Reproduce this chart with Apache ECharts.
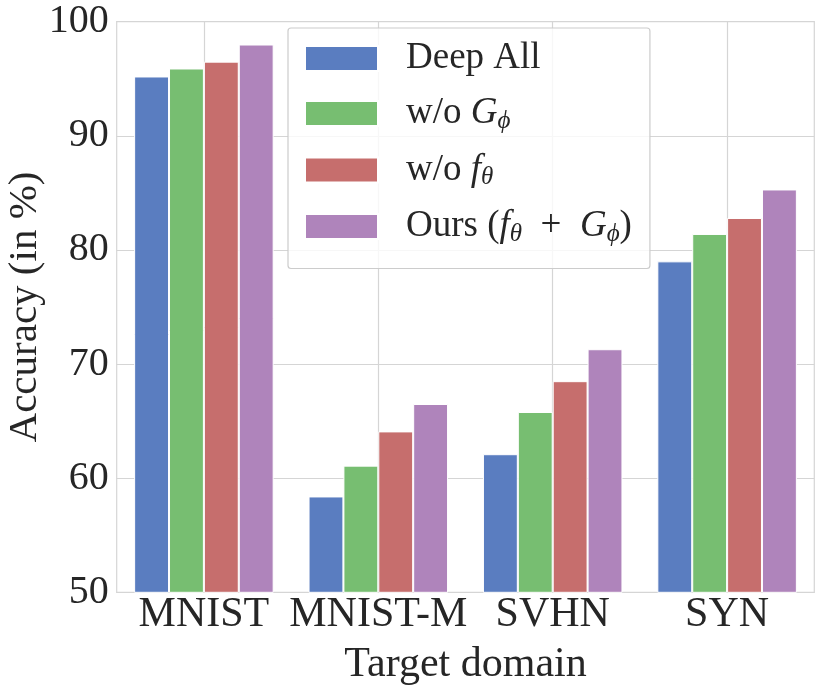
<!DOCTYPE html>
<html>
<head>
<meta charset="utf-8">
<script src="https://cdn.jsdelivr.net/npm/echarts@6/dist/echarts.min.js"></script>
<style>html,body{margin:0;padding:0;background:#fff}#c{width:824px;height:686px}</style>
</head>
<body>
<div id="c"></div>
<script>
const categories = ['MNIST', 'MNIST-M', 'SVHN', 'SYN'];
const deepAll = [95.2, 58.4, 62.1, 79.0];
const woG = [95.9, 61.1, 65.8, 81.4];
const woF = [96.5, 64.1, 68.5, 82.8];
const ours = [98.0, 66.5, 71.3, 85.3];
const yTicks = { min: 50, max: 100, interval: 10 };

const FONT = 'Liberation Serif';
const TXT = '#262626';
const GRID = '#d5d5d5';
const colors = ['#5A7DC0', '#77BE71', '#C66E6D', '#AF84BB'];
const names = ['Deep All', 'w/o G', 'w/o f', 'Ours'];
const legendText = {
  'Deep All': 'Deep All',
  'w/o G': 'w/o {i|G}{s|ϕ}',
  'w/o f': 'w/o {i|f}{s|θ}',
  'Ours': 'Ours ({i|f}{s|θ}  +  {i|G}{s|ϕ})'
};
const seriesData = [deepAll, woG, woF, ours];

// helper axis (hidden) used only to place vertical gridlines at category centres
const halfSteps = [];
for (let i = 0; i <= categories.length * 2; i++) halfSteps.push(String(i));

const chart = echarts.init(document.getElementById('c'), null, { renderer: 'canvas' });
chart.setOption({
  animation: false,
  backgroundColor: '#fff',
  color: colors,
  grid: { left: 116.7, right: 9.7, top: 21.7, bottom: 93.7, containLabel: false, outerBoundsMode: 'none',
          show: true, borderColor: GRID, borderWidth: 1.2, backgroundColor: 'transparent' },
  legend: {
    orient: 'vertical', left: 288, top: 28,
    padding: [12, 18, 22, 16],
    itemWidth: 73, itemHeight: 25, itemGap: 18,
    backgroundColor: 'rgba(255,255,255,0.8)', borderColor: '#cccccc', borderWidth: 1.2, borderRadius: 3,
    icon: 'rect',
    data: names,
    formatter: n => legendText[n],
    textStyle: {
      fontFamily: FONT, fontSize: 37, color: TXT, padding: [0, 0, 0, 23],
      rich: {
        i: { fontFamily: FONT, fontSize: 37, fontStyle: 'italic', color: TXT },
        s: { fontFamily: FONT, fontSize: 25, fontStyle: 'italic', color: TXT, padding: [15, 0, 0, 0] }
      }
    }
  },
  xAxis: [{
    type: 'category', data: categories,
    name: 'Target domain', nameLocation: 'middle', nameGap: 52, nameMoveOverlap: false,
    nameTextStyle: { fontFamily: FONT, fontSize: 42, color: TXT },
    axisLine: { show: false }, axisTick: { show: false },
    axisLabel: { fontFamily: FONT, fontSize: 42, color: TXT, margin: 2, interval: 0 },
    splitLine: { show: false }
  }, {
    type: 'category', data: halfSteps, boundaryGap: false, position: 'bottom',
    axisLine: { show: false }, axisTick: { show: false }, axisLabel: { show: false },
    splitLine: { show: true, interval: (idx) => idx % 2 === 1, lineStyle: { color: GRID, width: 1.2 } }
  }],
  yAxis: {
    type: 'value', min: yTicks.min, max: yTicks.max, interval: yTicks.interval,
    name: 'Accuracy (in %)', nameLocation: 'middle', nameGap: 71, nameMoveOverlap: false,
    nameTextStyle: { fontFamily: FONT, fontSize: 41, color: TXT },
    axisLine: { show: false }, axisTick: { show: false },
    axisLabel: { fontFamily: FONT, fontSize: 40, color: TXT, margin: 8 },
    splitLine: { show: true, lineStyle: { color: GRID, width: 1.2 } }
  },
  series: names.map((n, k) => ({
    name: n, type: 'bar', data: seriesData[k], xAxisIndex: 0,
    barGap: '0%', barCategoryGap: '20%',
    itemStyle: { color: colors[k], borderColor: '#fff', borderWidth: 1 }
  }))
});
</script>
</body>
</html>
